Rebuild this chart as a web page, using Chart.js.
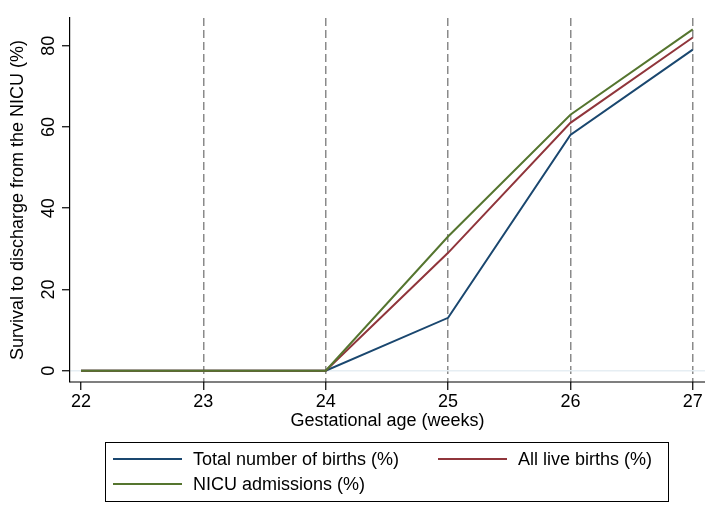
<!DOCTYPE html>
<html>
<head>
<meta charset="utf-8">
<script src="https://cdn.jsdelivr.net/npm/chart.js@4.4.1/dist/chart.umd.min.js"></script>
<style>
    html, body { margin: 0; padding: 0; background: #fff; }
    #wrap { width: 720px; height: 524px; }
</style>
</head>
<body>
<div id="wrap"><canvas id="chart" width="720" height="524"></canvas></div>
<script>
const weeks = [22, 23, 24, 25, 26, 27];
const totalBirths = [0, 0, 0, 13, 58, 79];
const liveBirths = [0, 0, 0, 29, 61, 82];
const nicuAdmissions = [0, 0, 0, 33, 63, 84];
const yTicks = [0, 20, 40, 60, 80];
const seriesLabels = ['Total number of births (%)', 'All live births (%)', 'NICU admissions (%)'];
const seriesColors = ['#1a476f', '#90353b', '#55752f'];

const fontFamily = '"Liberation Sans", Arial, sans-serif';
Chart.defaults.font.family = fontFamily;
Chart.defaults.font.size = 18;
Chart.defaults.color = '#000';

function points(values) {
    return weeks.map((w, i) => ({ x: w, y: values[i] }));
}

// y tick labels are drawn upright-rotated like the original, chart.js can't rotate y labels
const rotatedYLabels = {
    id: 'rotatedYLabels',
    afterDraw(chart) {
        const ctx = chart.ctx;
        const y = chart.scales.y;
        ctx.save();
        ctx.font = '18px ' + fontFamily;
        ctx.fillStyle = '#000';
        ctx.textAlign = 'center';
        ctx.textBaseline = 'middle';
        yTicks.forEach(v => {
            ctx.save();
            ctx.translate(48, y.getPixelForValue(v));
            ctx.rotate(-Math.PI / 2);
            ctx.fillText(String(v), 0, 1);
            ctx.restore();
        });
        ctx.restore();
    }
};

// x axis line drawn solid here, since border.dash also dashes the grid
const solidXAxis = {
    id: 'solidXAxis',
    afterDatasetsDraw(chart) {
        const ctx = chart.ctx;
        const a = chart.chartArea;
        ctx.save();
        ctx.strokeStyle = '#000';
        ctx.lineWidth = 1.2;
        ctx.setLineDash([]);
        ctx.beginPath();
        ctx.moveTo(a.left, a.bottom);
        ctx.lineTo(a.right, a.bottom);
        ctx.stroke();
        ctx.restore();
    }
};

// boxed legend, two columns
const boxLegend = {
    id: 'boxLegend',
    afterDraw(chart) {
        const ctx = chart.ctx;
        const box = { x: 105, y: 442, w: 563, h: 59 };
        ctx.save();
        ctx.strokeStyle = '#000';
        ctx.lineWidth = 1;
        ctx.strokeRect(box.x + 0.5, box.y + 0.5, box.w, box.h);
        ctx.font = '18px ' + fontFamily;
        ctx.textBaseline = 'middle';
        ctx.fillStyle = '#000';
        chart.data.datasets.forEach((ds, i) => {
            const col = i % 2;
            const row = Math.floor(i / 2);
            const lx = col === 0 ? 113 : 438;
            const ly = 459 + row * 25;
            ctx.strokeStyle = ds.borderColor;
            ctx.lineWidth = 2;
            ctx.beginPath();
            ctx.moveTo(lx, ly);
            ctx.lineTo(lx + 69, ly);
            ctx.stroke();
            ctx.fillText(ds.label, lx + 80, ly + 1);
        });
        ctx.restore();
    }
};

const series = [totalBirths, liveBirths, nicuAdmissions];

new Chart(document.getElementById('chart'), {
    type: 'line',
    data: {
        datasets: series.map((values, i) => ({
            label: seriesLabels[i],
            data: points(values),
            borderColor: seriesColors[i],
            backgroundColor: seriesColors[i],
            borderWidth: 2,
            pointRadius: 0,
            tension: 0,
            fill: false,
            order: 3 - i
        }))
    },
    options: {
        responsive: false,
        animation: false,
        layout: { padding: { top: 18, right: 15, bottom: 92, left: 0 } },
        plugins: {
            legend: { display: false },
            tooltip: { enabled: false }
        },
        scales: {
            x: {
                type: 'linear',
                min: 21.91,
                max: 27.1,
                afterBuildTicks: s => { s.ticks = weeks.map(v => ({ value: v })); },
                afterFit: s => { s.height = 50; },
                ticks: { padding: 1, font: { size: 18 } },
                grid: {
                    color: c => (c.tick && c.tick.value === 22) ? 'rgba(0,0,0,0)' : '#8a8a8a',
                    lineWidth: 1.5,
                    tickColor: '#000',
                    tickBorderDash: [],
                    tickLength: 8,
                    tickWidth: 1.2
                },
                border: { display: false, dash: [8, 4] },
                title: {
                    display: true,
                    text: 'Gestational age (weeks)',
                    font: { size: 18 },
                    padding: { top: 0, bottom: 0 }
                }
            },
            y: {
                type: 'linear',
                min: -2.8,
                max: 86.8,
                afterBuildTicks: s => { s.ticks = yTicks.map(v => ({ value: v })); },
                afterFit: s => { s.width = 70; },
                ticks: { color: 'rgba(0,0,0,0)' },
                grid: {
                    color: c => (c.tick && c.tick.value === 0) ? '#e6eef3' : 'rgba(0,0,0,0)',
                    lineWidth: 1.5,
                    tickColor: '#000',
                    tickLength: 8,
                    tickWidth: 1.2
                },
                border: { display: true, color: '#000', width: 1.2 },
                title: {
                    display: true,
                    text: 'Survival to discharge from the NICU (%)',
                    font: { size: 18 },
                    padding: { top: 7, bottom: 0 }
                }
            }
        }
    },
    plugins: [rotatedYLabels, solidXAxis, boxLegend]
});
</script>
</body>
</html>
